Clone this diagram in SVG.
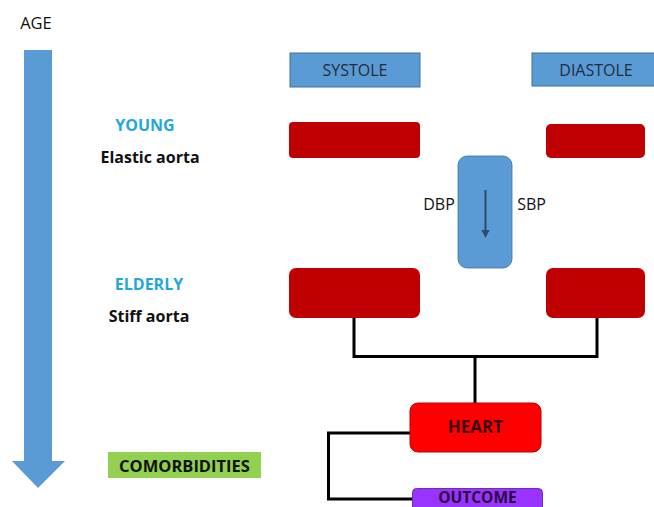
<svg xmlns="http://www.w3.org/2000/svg" width="654" height="507" viewBox="0 0 654 507">
<style>
.t{font-family:"Open Sans","Liberation Sans",sans-serif}
.b{font-weight:bold}
.lbl{fill:#1fa8dc;font-size:16px;font-weight:bold}
.blk{fill:#111;font-size:16px;font-weight:bold}
.hdr{fill:#5b9bd5;stroke:#41719c;stroke-width:1}
.red{fill:#c00000}
.con{fill:none;stroke:#000;stroke-width:3}
</style>
<rect width="654" height="507" fill="#fff"/>
<g id="age-arrow">
<path d="M24,50 H52 V461 H65 L38,488 L12,461 H24 Z" fill="#5b9bd5"/>
<text class="t" x="36" y="29" font-size="16.5" text-anchor="middle" fill="#111">AGE</text>
</g>
<g id="young"><text class="t lbl" x="145" y="131" text-anchor="middle">YOUNG</text></g>
<g id="elastic"><text class="t blk" x="150" y="163" text-anchor="middle">Elastic aorta</text></g>
<g id="elderly"><text class="t lbl" x="149" y="290" text-anchor="middle">ELDERLY</text></g>
<g id="stiff"><text class="t blk" x="149" y="322" text-anchor="middle">Stiff aorta</text></g>
<g id="comorbidities">
<rect x="108" y="452" width="153" height="26" fill="#92d050"/>
<text class="t b" x="184.5" y="471.5" font-size="16.5" text-anchor="middle" fill="#111">COMORBIDITIES</text>
</g>
<g id="systole">
<rect class="hdr" x="290" y="53" width="130" height="34"/>
<text class="t" x="355" y="76" font-size="16" text-anchor="middle" fill="#1f2d3d">SYSTOLE</text>
</g>
<g id="diastole">
<rect class="hdr" x="532" y="53" width="124" height="33"/>
<text class="t" x="596" y="76" font-size="16" text-anchor="middle" fill="#1f2d3d">DIASTOLE</text>
</g>
<g id="young-systole"><rect class="red" x="289" y="122" width="131" height="36" rx="4"/></g>
<g id="young-diastole"><rect class="red" x="546" y="124" width="99" height="34" rx="5"/></g>
<g id="dbp-sbp">
<rect x="458" y="156" width="54" height="112" rx="9" fill="#5b9bd5" stroke="#41719c" stroke-width="0.8"/>
<line x1="485.5" y1="190" x2="485.5" y2="231" stroke="#2e4a6b" stroke-width="2"/>
<path d="M481.5,230 L489.5,230 L485.5,238 Z" fill="#2e4a6b"/>
<text class="t" x="439" y="210" font-size="16" text-anchor="middle" fill="#111">DBP</text>
<text class="t" x="531.5" y="210" font-size="16" text-anchor="middle" fill="#111">SBP</text>
</g>
<g id="elderly-systole"><rect class="red" x="289" y="268" width="131" height="50" rx="7"/></g>
<g id="elderly-diastole"><rect class="red" x="546" y="268" width="99" height="50" rx="7"/></g>
<g id="connectors">
<path class="con" d="M354,318 V356.5 H597 V318"/>
<path class="con" d="M475,356.5 V403"/>
<path class="con" d="M411,433 H328.5 V499 H413"/>
</g>
<g id="heart">
<rect x="410" y="403" width="131" height="49" rx="8" fill="#ff0000" stroke="#c00000" stroke-width="1"/>
<text class="t b" x="475.5" y="433" font-size="17" text-anchor="middle" fill="#3a0a0a">HEART</text>
</g>
<g id="outcome">
<rect x="412.5" y="488.5" width="130" height="30" rx="4" fill="#9933ff" stroke="#7030a0" stroke-width="1"/>
<text class="t b" x="477.5" y="503" font-size="15.5" text-anchor="middle" fill="#2a0a3a">OUTCOME</text>
</g>
</svg>
